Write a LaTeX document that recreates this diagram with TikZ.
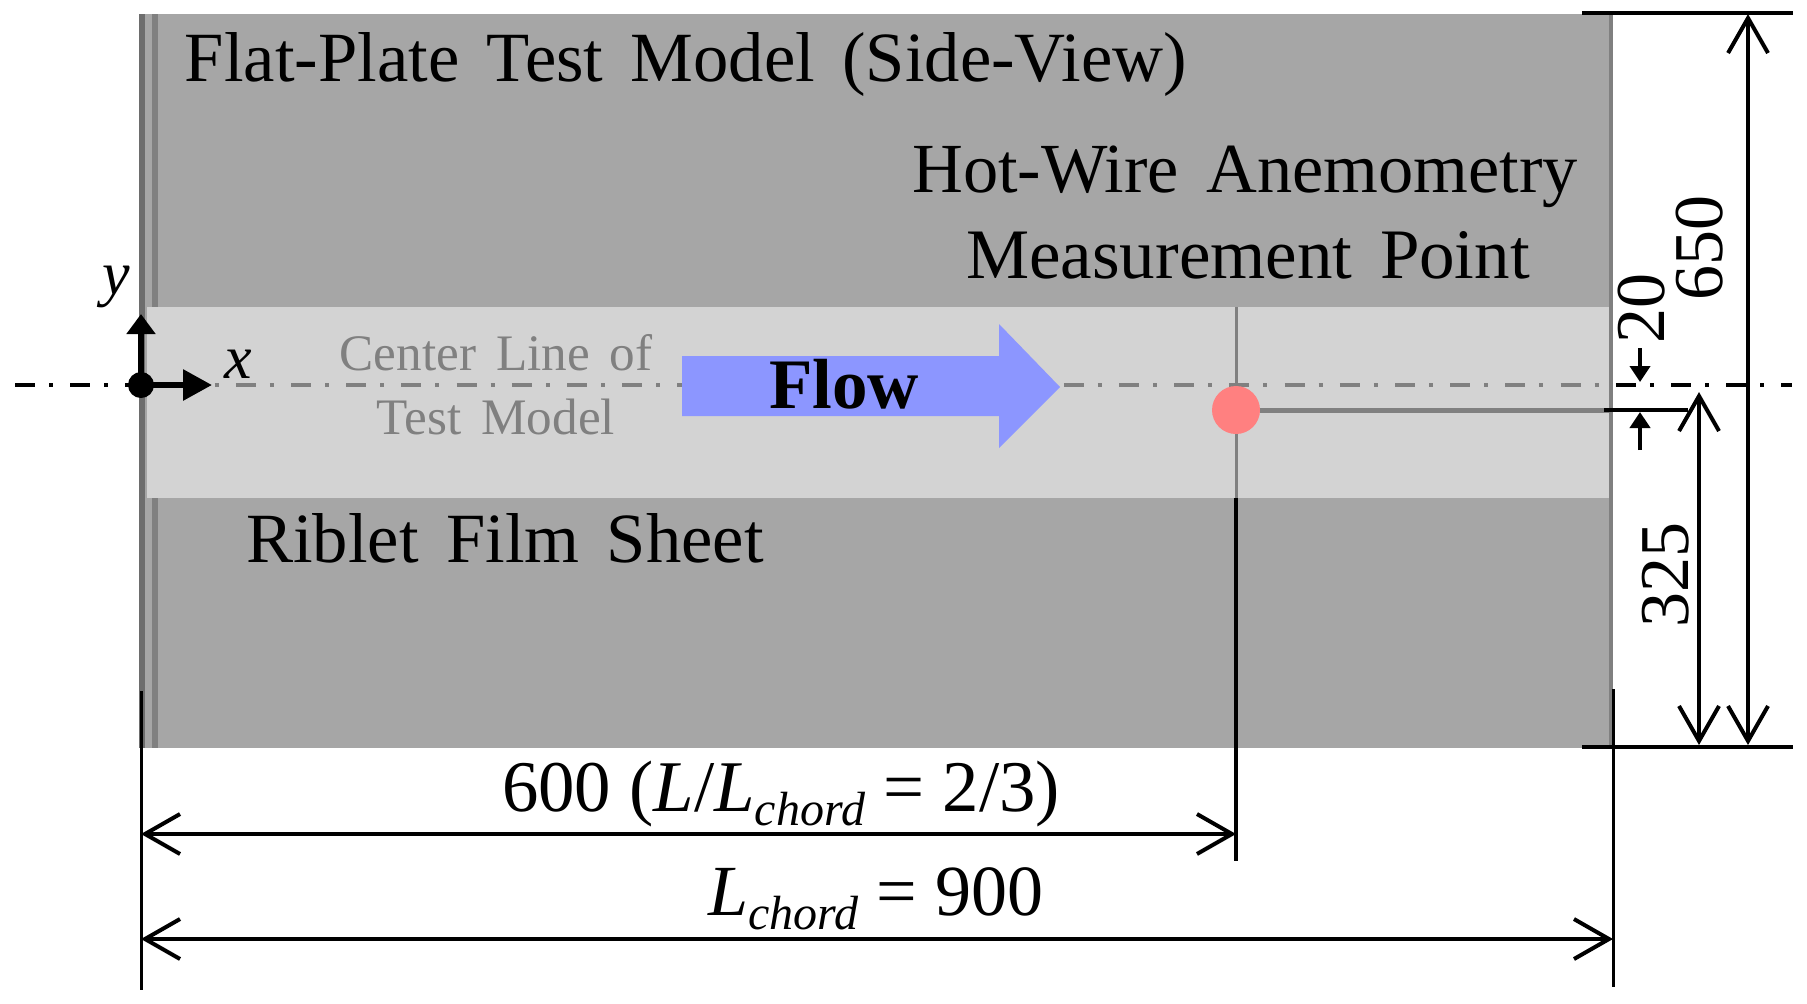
\documentclass[tikz,border=0pt]{standalone}
\usepackage{fontspec}
\setmainfont[WordSpace=1.55]{Liberation Serif}
\newfontfamily\plainserif[WordSpace=1.0]{Liberation Serif}
\usetikzlibrary{arrows.meta}
\definecolor{plate}{HTML}{A6A6A6}
\definecolor{band}{HTML}{D3D3D3}
\definecolor{edge}{HTML}{808080}
\definecolor{flowblue}{HTML}{8C96FF}
\definecolor{probe}{HTML}{FF8080}
\newcommand{\chordsub}{\raisebox{-7pt}{\fontsize{24}{24}\selectfont\textit{chord}}}
\tikzset{
  lbl/.style={anchor=base,inner sep=0,outer sep=0,font=\fontsize{#1}{#1}\selectfont},
  dim/.style={line width=1.8pt,{Straight Barb[length=17.5pt,width=20pt,line width=2pt]}-{Straight Barb[length=17.5pt,width=20pt,line width=2pt]}},
  ext/.style={line width=1.5pt,black},
  small/.style={line width=2pt,-{Triangle[length=8pt,width=10pt]}},
  cl/.style={line width=2pt,dash pattern=on 10pt off 7pt on 2pt off 8.6pt},
}
\begin{document}
\begin{tikzpicture}[x=.5pt,y=-.5pt]
\path[use as bounding box] (0,0) rectangle (1807,1003);
% plate
\fill[plate] (141,14) rectangle (1612,748);
\fill[edge!85!black] (139,14) rectangle (145,748);
\fill[edge] (152,14) rectangle (158,748);
\fill[edge] (1609,14) rectangle (1613,748);
% centre line
\draw[cl] (15,385) -- (1792,385);
\fill[edge!85!black] (139,370) rectangle (145,400);
\fill[band] (147,307) rectangle (1609,498);
\begin{scope}
\clip (147,300) rectangle (1609,470);
\draw[cl,edge] (15,385) -- (1792,385);
\end{scope}
% flow arrow
\fill[flowblue] (682,356) -- (999,356) -- (999,324) -- (1060,387) -- (999,448) -- (999,416) -- (682,416) -- cycle;
\node[lbl=36,font=\fontsize{35.5}{36}\selectfont\bfseries] (flow) at (844,408) {Flow};
% measurement point
\node[circle,fill=probe,minimum size=24pt,inner sep=0] (pt) at (1236,410) {};
\coordinate (top) at (1236,307);
\coordinate (mid) at (1236,498);
\coordinate (low) at (1236,861);
\coordinate (h1) at (1612,410);
\coordinate (h2) at (1688,410);
\draw[edge,line width=1.5pt] (top) -- (pt);
\draw[edge,line width=1.5pt] (pt) -- (mid);
\draw[black,line width=1.7pt] (mid) -- (low);
\draw[edge,line width=2.5pt] (pt) -- (h1);
\draw[black,line width=2pt] (1604,410) -- (h2);
% extension lines
\coordinate (l1) at (141,691);
\coordinate (l2) at (141,990);
\coordinate (r1) at (1613,689);
\coordinate (r2) at (1613,987);
\draw[ext] (l1) -- (l2);
\draw[ext] (r1) -- (r2);
\draw[black,line width=2.4pt] (1582,13) -- (1793,13);
\draw[black,line width=2.4pt] (1582,747) -- (1793,747);
% dims
\draw[dim] (141,834) -- (1236,834);
\draw[dim] (141,939) -- (1613,939);
\draw[dim] (1748,14) -- (1748,745);
\draw[dim] (1699,392) -- (1699,745);
\draw[small] (1640,348) -- (1640,382);
\draw[small] (1640,450) -- (1640,412);
% axes
\draw[line width=3pt,{Triangle[length=10pt,width=14pt]}-] (141,314) -- (141,385);
\draw[line width=3pt,-{Triangle[length=14.5pt,width=15pt]}] (141,385) -- (212,385);
\node[circle,fill=black,minimum size=13pt,inner sep=0] (origin) at (141,385) {};
% text
\node[lbl=35.3] (title) at (686,81) {Flat-Plate Test Model (Side-View)};
\node[lbl=35.2] (hw1) at (1245,192) {Hot-Wire Anemometry};
\node[lbl=35.5] (hw2) at (1248,278) {Measurement Point};
\node[lbl=25.6,text=edge] (c1) at (496,370) {Center Line of};
\node[lbl=25.6,text=edge] (c2) at (496,434) {Test Model};
\node[lbl=35.3] (rib) at (505,562) {Riblet Film Sheet};
\node[lbl=36.4] (d600) at (781,811) {\plainserif 600 (\textit{L}/\textit{L}\chordsub\ = 2/3)};
\node[lbl=36] (d900) at (876,915) {\plainserif \textit{L}\chordsub\ = 900};
\node[lbl=35,rotate=90] (t650) at (1722,248) {650};
\node[lbl=35,rotate=90] (t20) at (1664,308) {20};
\node[lbl=35,rotate=90] (t325) at (1688,575) {325};
\node[lbl=31] (x) at (238,378) {\textit{x}};
\node[lbl=31] (y) at (116,294) {\textit{y}};
\end{tikzpicture}
\end{document}
